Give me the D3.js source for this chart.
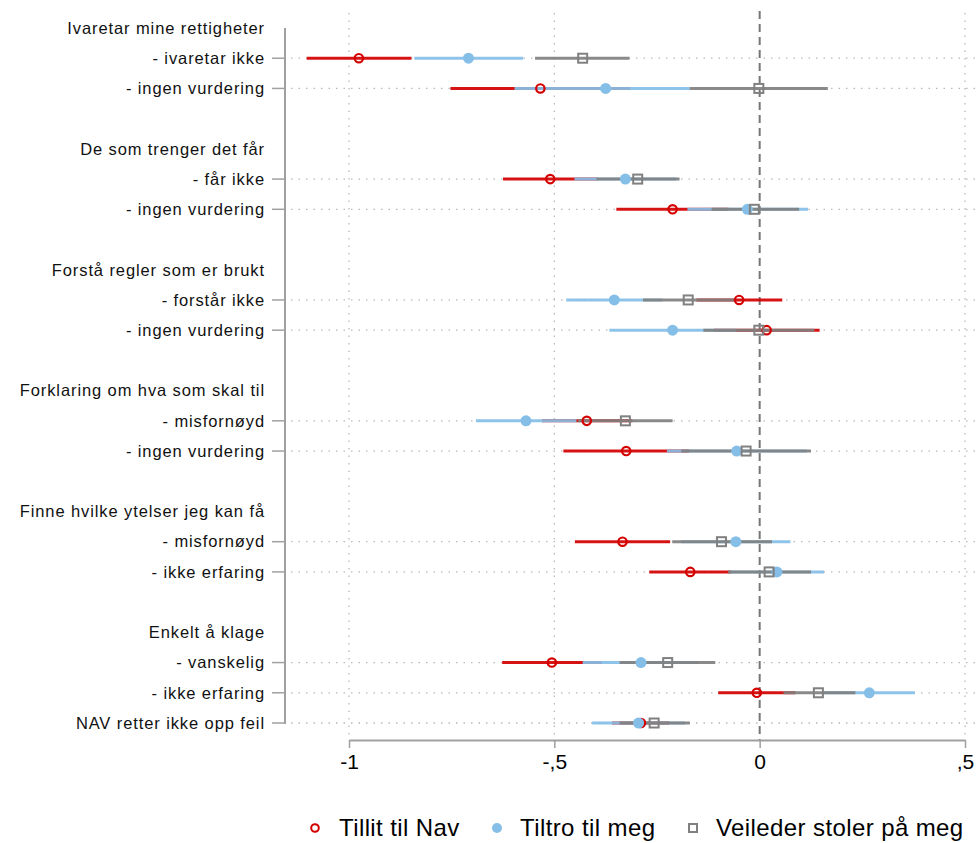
<!DOCTYPE html>
<html>
<head>
<meta charset="utf-8">
<script src="https://cdn.jsdelivr.net/npm/d3@7"></script>
<style>
  html, body { margin: 0; padding: 0; background: #fff; }
  svg { display: block; font-family: "Liberation Sans", Arial, Helvetica, sans-serif; }
</style>
</head>
<body>
<svg id="chart" width="977" height="843"></svg>
<script>
// group titles and the rows under them (groupOf = -1: row without a title)
const groupTitles = [
  "Ivaretar mine rettigheter",
  "De som trenger det får",
  "Forstå regler som er brukt",
  "Forklaring om hva som skal til",
  "Finne hvilke ytelser jeg kan få",
  "Enkelt å klage"
];
const categories = [
  "- ivaretar ikke", "- ingen vurdering",
  "- får ikke", "- ingen vurdering",
  "- forstår ikke", "- ingen vurdering",
  "- misfornøyd", "- ingen vurdering",
  "- misfornøyd", "- ikke erfaring",
  "- vanskelig", "- ikke erfaring",
  "NAV retter ikke opp feil"
];
const groupOf = [0, 0, 1, 1, 2, 2, 3, 3, 4, 4, 5, 5, -1];

// Tillit til Nav
const tillitEst = [-0.976, -0.534, -0.510, -0.212, -0.050, 0.017, -0.421, -0.325, -0.334, -0.169, -0.506, -0.007, -0.289];
const tillitLo  = [-1.103, -0.753, -0.625, -0.349, -0.154, -0.111, -0.530, -0.478, -0.450, -0.269, -0.627, -0.101, -0.360];
const tillitHi  = [-0.848, -0.315, -0.395, -0.076, 0.055, 0.146, -0.310, -0.172, -0.218, -0.069, -0.384, 0.087, -0.220];

// Tiltro til meg
const tiltroEst = [-0.709, -0.375, -0.327, -0.030, -0.354, -0.212, -0.569, -0.056, -0.058, 0.042, -0.289, 0.267, -0.295];
const tiltroLo  = [-0.841, -0.597, -0.451, -0.176, -0.471, -0.366, -0.691, -0.226, -0.191, -0.073, -0.431, 0.156, -0.408];
const tiltroHi  = [-0.576, -0.170, -0.203, 0.118, -0.237, -0.058, -0.446, 0.115, 0.075, 0.157, -0.148, 0.378, -0.182];

// Veileder stoler på meg
const veilEst = [-0.431, -0.002, -0.297, -0.013, -0.174, -0.002, -0.327, -0.033, -0.093, 0.023, -0.224, 0.143, -0.257];
const veilLo  = [-0.547, -0.170, -0.397, -0.117, -0.284, -0.137, -0.442, -0.191, -0.213, -0.077, -0.341, 0.058, -0.341];
const veilHi  = [-0.317, 0.166, -0.195, 0.096, -0.063, 0.133, -0.212, 0.125, 0.030, 0.125, -0.108, 0.233, -0.170];

const xTicks = [-1, -0.5, 0, 0.5];
const xTickLabels = ["-1", "-,5", "0", ",5"];
const seriesNames = ["Tillit til Nav", "Tiltro til meg", "Veileder stoler på meg"];

// build slot list: title rows, data rows and blank spacer rows
const slots = [];
const dataSlot = [];
let prevGroup = null;
categories.forEach((c, i) => {
  const g = groupOf[i];
  if (g !== prevGroup && g >= 0) {
    if (prevGroup !== null) slots.push({ label: "", kind: "blank" });
    slots.push({ label: groupTitles[g], kind: "title" });
  }
  dataSlot.push(slots.length);
  slots.push({ label: c, kind: "data" });
  prevGroup = g;
});

const svg = d3.select('#chart');
const W = +svg.attr('width');

const x = d3.scaleLinear().domain([-1, 0.5]).range([349, 965]);
const y = d3.scaleLinear().domain([0, slots.length - 1]).range([28, 723]);

const axisX = 285;
const plotTop = 13, plotBottom = 740;

const red = '#d40000', blue = '#85bfe8', gray = '#808080';

// grid
const grid = svg.append('g');
grid.selectAll('line.hg')
  .data(dataSlot)
  .enter().append('line')
  .attr('x1', axisX + 6).attr('x2', W)
  .attr('y1', d => y(d)).attr('y2', d => y(d))
  .attr('stroke', '#b8b8b8').attr('stroke-width', 1.3)
  .attr('stroke-dasharray', '1.5,6');

grid.selectAll('line.vg')
  .data(xTicks.filter(t => t !== 0))
  .enter().append('line')
  .attr('x1', d => x(d)).attr('x2', d => x(d))
  .attr('y1', plotTop).attr('y2', plotBottom)
  .attr('stroke', '#b8b8b8').attr('stroke-width', 1.3)
  .attr('stroke-dasharray', '1.5,6');

// zero reference line
svg.append('line')
  .attr('x1', x(0)).attr('x2', x(0))
  .attr('y1', plotTop - 2).attr('y2', plotBottom)
  .attr('stroke', '#767676').attr('stroke-width', 2)
  .attr('stroke-dasharray', '8,5');

// x axis
const xAxis = svg.append('g')
  .attr('transform', `translate(0,${plotBottom})`)
  .call(d3.axisBottom(x).tickValues(xTicks)
    .tickFormat((d, i) => xTickLabels[i]).tickSize(8).tickSizeOuter(0));
xAxis.select('.domain').attr('stroke', '#a0a0a0').attr('stroke-width', 2);
xAxis.selectAll('.tick line').attr('stroke', '#a0a0a0').attr('stroke-width', 1.5);
xAxis.selectAll('.tick text')
  .attr('fill', '#000').attr('font-size', 21).attr('y', 7).attr('dy', '1.05em')
  .style('font-family', '"Liberation Sans", Arial, Helvetica, sans-serif');

// y axis
const yg = svg.append('g');
yg.append('line')
  .attr('x1', axisX).attr('x2', axisX)
  .attr('y1', y(0)).attr('y2', y(slots.length - 1) + 1)
  .attr('stroke', '#a0a0a0').attr('stroke-width', 2);
yg.selectAll('line.tick')
  .data(dataSlot)
  .enter().append('line')
  .attr('x1', axisX - 13).attr('x2', axisX)
  .attr('y1', d => y(d)).attr('y2', d => y(d))
  .attr('stroke', '#a0a0a0').attr('stroke-width', 1.5);
yg.selectAll('text')
  .data(slots.map((s, i) => ({ s, i })).filter(d => d.s.kind !== 'blank'))
  .enter().append('text')
  .attr('x', 265)
  .attr('y', d => y(d.i))
  .attr('dy', '0.35em')
  .attr('text-anchor', 'end')
  .attr('font-size', 16.5)
  .attr('letter-spacing', '0.9px')
  .attr('fill', '#111')
  .text(d => d.s.label);

// series
const series = [
  { name: seriesNames[0], est: tillitEst, lo: tillitLo, hi: tillitHi, color: red },
  { name: seriesNames[1], est: tiltroEst, lo: tiltroLo, hi: tiltroHi, color: blue },
  { name: seriesNames[2], est: veilEst, lo: veilLo, hi: veilHi, color: gray }
];

// confidence intervals first
series.forEach(s => {
  svg.append('g').selectAll('line')
    .data(s.est.map((v, i) => i))
    .enter().append('line')
    .attr('x1', i => x(s.lo[i])).attr('x2', i => x(s.hi[i]))
    .attr('y1', i => y(dataSlot[i])).attr('y2', i => y(dataSlot[i]))
    .attr('stroke', s.color).attr('stroke-width', 3)
    .attr('stroke-opacity', 0.92);
});

// markers
svg.append('g').selectAll('circle')
  .data(tillitEst)
  .enter().append('circle')
  .attr('cx', d => x(d)).attr('cy', (d, i) => y(dataSlot[i]))
  .attr('r', 4.2).attr('fill', 'none')
  .attr('stroke', red).attr('stroke-width', 2.2);

svg.append('g').selectAll('circle')
  .data(tiltroEst)
  .enter().append('circle')
  .attr('cx', d => x(d)).attr('cy', (d, i) => y(dataSlot[i]))
  .attr('r', 5.5).attr('fill', blue);

svg.append('g').selectAll('rect')
  .data(veilEst)
  .enter().append('rect')
  .attr('x', d => x(d) - 4.5).attr('y', (d, i) => y(dataSlot[i]) - 4.5)
  .attr('width', 9).attr('height', 9)
  .attr('fill', 'none').attr('stroke', gray).attr('stroke-width', 2);

// legend
const legY = 828;
const leg = svg.append('g').attr('font-size', 24).attr('letter-spacing', '0.4px').attr('fill', '#000');
leg.append('circle').attr('cx', 315).attr('cy', legY).attr('r', 3.8)
  .attr('fill', 'none').attr('stroke', red).attr('stroke-width', 2);
leg.append('text').attr('x', 339).attr('y', legY + 8).text(seriesNames[0]);
leg.append('circle').attr('cx', 497).attr('cy', legY).attr('r', 5).attr('fill', blue);
leg.append('text').attr('x', 520).attr('y', legY + 8).text(seriesNames[1]);
leg.append('rect').attr('x', 689).attr('y', legY - 4).attr('width', 8).attr('height', 8)
  .attr('fill', 'none').attr('stroke', gray).attr('stroke-width', 2);
leg.append('text').attr('x', 716).attr('y', legY + 8).text(seriesNames[2]);
</script>
</body>
</html>
